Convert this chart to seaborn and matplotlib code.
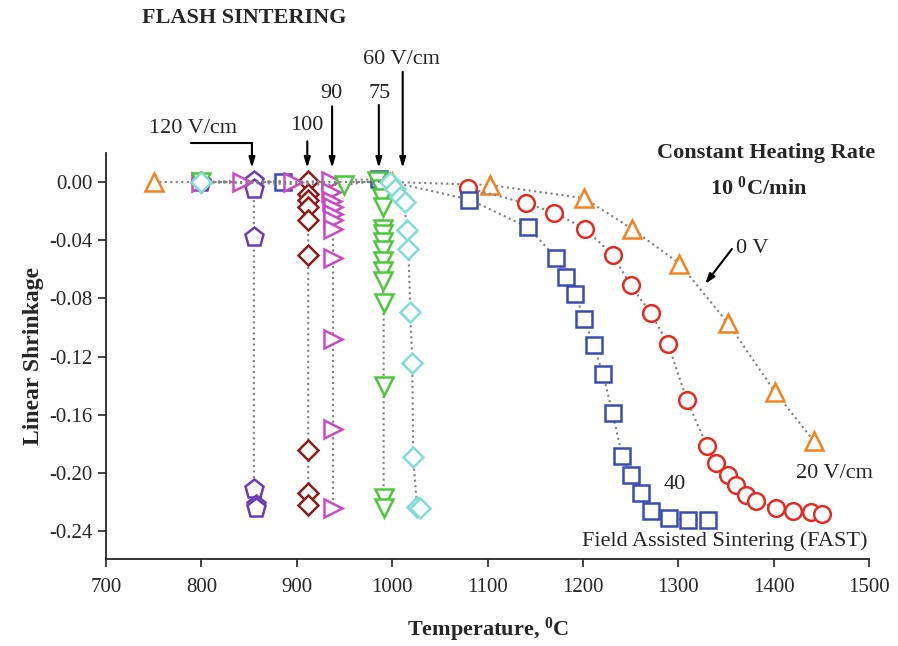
import numpy as np
import pandas as pd
import matplotlib
matplotlib.use("Agg")
import matplotlib.pyplot as plt
import seaborn as sns

# ---- data ----
# 0 V (conventional sintering)
t_0v = [750, 1000, 1102, 1201, 1251, 1301, 1352, 1401, 1442]
s_0v = [0.000, 0.000, -0.002, -0.011, -0.032, -0.056, -0.097, -0.144, -0.178]

# 20 V/cm
t_20 = [1079, 1140, 1170, 1202, 1231, 1250, 1271, 1289, 1309, 1330, 1339,
        1352, 1360, 1371, 1381, 1402, 1420, 1439, 1450]
s_20 = [-0.004, -0.0145, -0.021, -0.032, -0.050, -0.071, -0.090, -0.111, -0.150,
        -0.1815, -0.193, -0.201, -0.208, -0.215, -0.219, -0.224, -0.226, -0.227, -0.228]

# 40 V/cm
t_40 = [886, 986, 1081, 1142, 1172, 1182, 1192, 1201, 1211, 1221, 1231, 1241,
        1250, 1261, 1271, 1290, 1310, 1331]
s_40 = [0.000, 0.002, -0.012, -0.031, -0.052, -0.065, -0.077, -0.094, -0.112,
        -0.132, -0.159, -0.188, -0.201, -0.214, -0.226, -0.231, -0.232, -0.232]

# flash sintering runs
t_120 = [800, 855, 855, 855, 855, 857, 857]
s_120 = [0.000, 0.001, -0.005, -0.038, -0.211, -0.222, -0.224]

t_100 = [800, 912, 912, 912, 912, 912, 912, 912, 912, 912]
s_100 = [0.000, 0.001, -0.008, -0.012, -0.017, -0.026, -0.050, -0.184, -0.214, -0.222]

t_90 = [800, 843, 896, 936, 936, 937, 938, 938, 938, 938, 938, 938, 938, 938]
s_90 = [0.000, 0.000, 0.000, 0.001, -0.007, -0.013, -0.017, -0.022, -0.026,
        -0.032, -0.052, -0.108, -0.170, -0.224]

t_75 = [800, 950, 984, 988, 989, 990, 990, 990, 990, 990, 990, 990, 990, 991,
        991, 991, 991]
s_75 = [0.000, -0.002, 0.001, -0.005, -0.011, -0.017, -0.032, -0.036, -0.041,
        -0.047, -0.054, -0.061, -0.068, -0.083, -0.140, -0.217, -0.224]

t_60 = [800, 998, 1003, 1008, 1013, 1015, 1017, 1019, 1021, 1022, 1026, 1029]
s_60 = [0.000, 0.000, -0.005, -0.010, -0.014, -0.033, -0.046, -0.089, -0.124,
        -0.189, -0.223, -0.224]

series = [
    (t_0v, s_0v, "^", "#f5821f", 13),
    (t_20, s_20, "o", "#e52a22", 12),
    (t_40, s_40, "s", "#3b4db3", 11),
    (t_120, s_120, "p", "#6a3cb6", 14),
    (t_100, s_100, "D", "#8c1c1c", 10.5),
    (t_90, s_90, ">", "#cc48c8", 13),
    (t_75, s_75, "v", "#4cc83a", 13),
    (t_60, s_60, "D", "#80ddd6", 10.5),
]

sns.set_style("ticks")
plt.rcParams["font.family"] = ["Liberation Serif", "DejaVu Serif"]
plt.rcParams["mathtext.default"] = "regular"
plt.rcParams["axes.unicode_minus"] = False

fig = plt.figure(figsize=(8.98, 6.46), dpi=100)
ax = fig.add_axes([0.118, 0.1347, 0.850, 0.6285])

for t, s, mk, col, ms in series:
    df = pd.DataFrame({"T": t, "S": s})
    sns.lineplot(data=df, x="T", y="S", ax=ax, estimator=None, sort=False,
                 color="#808080", linestyle=":", linewidth=1.5,
                 marker=mk, markersize=ms, markerfacecolor="white",
                 markeredgecolor=col, markeredgewidth=1.8, clip_on=False)

ax.set_xlim(700, 1500)
ax.set_ylim(-0.259, 0.02)
ax.set_xticks(np.arange(700, 1501, 100))
ax.set_yticks(np.arange(-0.24, 0.001, 0.04))
ax.set_yticklabels([f"{v:.2f}" for v in np.arange(-0.24, 0.001, 0.04)])
ax.tick_params(axis="both", labelsize=15, length=6, width=1.2, direction="out")
ax.tick_params(axis="x", pad=8)
for side in ["top", "right"]:
    ax.spines[side].set_visible(False)
for side in ["left", "bottom"]:
    ax.spines[side].set_linewidth(1.3)

ax.set_xlabel("Temperature, $^0$C", fontsize=16, fontweight="bold", labelpad=13)
ax.set_ylabel("Linear Shrinkage", fontsize=17, fontweight="bold", labelpad=4)

# ---- annotations ----
fig.text(142 / 898, 1 - 18 / 646, "FLASH SINTERING", fontsize=16,
         fontweight="bold", va="center", ha="left")

arrow = dict(arrowstyle="-|>,head_length=0.6,head_width=0.18", color="black",
             lw=1.5, shrinkA=0, shrinkB=0)
tip = 0.0097
ax.annotate("", xy=(1011, tip), xytext=(1011, 0.0757), arrowprops=arrow,
            annotation_clip=False)
ax.annotate("", xy=(986, tip), xytext=(986, 0.053), arrowprops=arrow,
            annotation_clip=False)
ax.annotate("", xy=(937, tip), xytext=(937, 0.052), arrowprops=arrow,
            annotation_clip=False)
ax.annotate("", xy=(911, tip), xytext=(911, 0.028), arrowprops=arrow,
            annotation_clip=False)
ax.plot([789, 853], [0.0269, 0.0269], color="black", lw=1.5, clip_on=False)
ax.annotate("", xy=(853, tip), xytext=(853, 0.0269), arrowprops=arrow,
            annotation_clip=False)

ax.text(1010, 0.084, "60 V/cm", fontsize=16, ha="center", va="center")
ax.text(987, 0.0612, "75", fontsize=16, ha="center", va="center")
ax.text(936, 0.0612, "90", fontsize=16, ha="center", va="center")
ax.text(911, 0.039, "100", fontsize=16, ha="center", va="center")
ax.text(791, 0.0365, "120 V/cm", fontsize=16, ha="center", va="center")

ax.text(1392, 0.0199, "Constant Heating Rate", fontsize=16, fontweight="bold",
        ha="center", va="center")
ax.text(1384, -0.0042, "10 $^0$C/min", fontsize=16, fontweight="bold",
        ha="center", va="center")

ax.annotate("", xy=(1328, -0.070), xytext=(1356, -0.046),
            arrowprops=dict(arrowstyle="-|>,head_length=0.6,head_width=0.2",
                            color="black", lw=1.5, shrinkA=0, shrinkB=0))
ax.text(1360, -0.0455, "0 V", fontsize=16, ha="left", va="center")
ax.text(1464, -0.2005, "20 V/cm", fontsize=16, ha="center", va="center")
ax.text(1296, -0.208, "40", fontsize=16, ha="center", va="center")
ax.text(1498, -0.247, "Field Assisted Sintering (FAST)", fontsize=16,
        ha="right", va="center")

fig.savefig("out.png", dpi=100)
